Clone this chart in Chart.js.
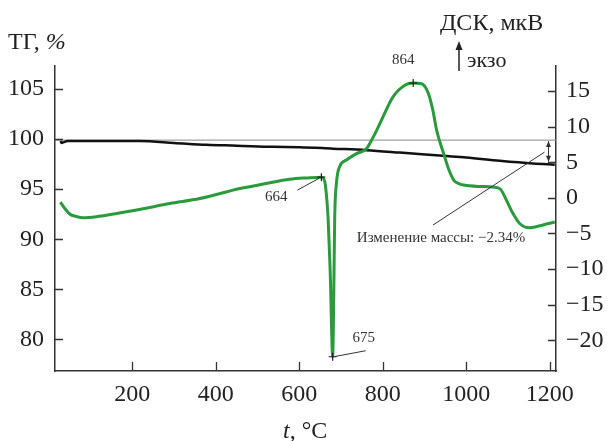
<!DOCTYPE html>
<html>
<head>
<meta charset="utf-8">
<script src="https://cdn.jsdelivr.net/npm/chart.js@4.4.0/dist/chart.umd.min.js"></script>
<style>
  body { margin: 0; background: #fff; }
  #wrap { width: 612px; height: 441px; position: relative; }
</style>
</head>
<body>
<div id="wrap"><canvas id="myChart"></canvas></div>
<script>
// ТГ / ДСК curve data

const xTicks = [200, 400, 600, 800, 1000, 1200];
const tgTicks = [80, 85, 90, 95, 100, 105];
const dscTicks = [-20, -15, -10, -5, 0, 5, 10, 15];

// thin grey 100% reference line
const refT = [15, 1215];
const refV = [99.9, 99.9];

// ТГ, %
const tgT = [28, 31, 36, 45, 100, 218, 300, 378, 450, 537, 601, 681, 761, 841, 944, 1000, 1080, 1160, 1212];
const tgV = [99.8, 99.62, 99.7, 99.8, 99.82, 99.8, 99.62, 99.43, 99.35, 99.23, 99.2, 99.05, 98.9, 98.66, 98.33, 98.16, 97.83, 97.56, 97.45];

// ДСК, мкВ
const dscT = [28, 40, 51, 65, 83, 120, 163, 220, 290, 362, 458, 520, 577, 620, 653, 661, 665, 669, 672, 675, 677, 680, 682, 683, 685, 689, 697, 713, 737, 761, 777, 793, 825, 853, 873, 893, 909, 920, 929, 946, 958, 970, 982, 994, 1030, 1066, 1082, 1096, 1112, 1128, 1152, 1184, 1212];
const dscV = [-0.6, -1.6, -2.3, -2.6, -2.8, -2.6, -2.2, -1.6, -0.8, -0.1, 1.3, 2.0, 2.6, 2.8, 2.9, 2.3, 0.5, -2.7, -7, -12, -17.2, -22.3, -17, -12, -2.7, 2.0, 4.4, 5.3, 6.2, 6.9, 8.5, 10.4, 14.2, 15.8, 16.1, 16.0, 14.7, 12.3, 9.5, 6.2, 4.0, 2.5, 2.0, 1.8, 1.6, 1.5, 1.2, -0.3, -2.2, -3.6, -4.2, -3.8, -3.4];

// peak markers
const markT = [653, 680, 873];
const markV = [2.9, -22.3, 16.1];
const markLabels = ["664", "675", "864"];

const massText = "Изменение массы: −2.34%";

const SERIF = "'Liberation Serif', 'DejaVu Serif', serif";

function pts(xs, ys) {
  return xs.map((x, i) => ({ x: x, y: ys[i] }));
}

function minus(v) {
  return v < 0 ? "−" + Math.abs(v) : "" + v;
}

// inward tick marks + annotations
const extras = {
  id: "extras",
  afterDatasetsDraw(chart) {
    const ctx = chart.ctx;
    const x = chart.scales.x, yL = chart.scales.yL, yR = chart.scales.yR;
    ctx.save();
    ctx.strokeStyle = "#333";
    ctx.lineWidth = 1.3;
    ctx.beginPath();
    xTicks.forEach(v => {
      const px = Math.round(x.getPixelForValue(v)) + 0.5;
      ctx.moveTo(px, x.top);
      ctx.lineTo(px, x.top - 9);
    });
    tgTicks.forEach(v => {
      const py = Math.round(yL.getPixelForValue(v)) + 0.5;
      ctx.moveTo(yL.right, py);
      ctx.lineTo(yL.right + 8, py);
    });
    dscTicks.forEach(v => {
      const py = Math.round(yR.getPixelForValue(v)) + 0.5;
      ctx.moveTo(yR.left, py);
      ctx.lineTo(yR.left - 8, py);
    });
    ctx.stroke();

    // marker labels
    ctx.fillStyle = "#333";
    ctx.font = "15px " + SERIF;
    ctx.textAlign = "center";
    ctx.textBaseline = "middle";
    ctx.lineWidth = 1;
    const m = markT.map((t, i) => ({ x: x.getPixelForValue(t), y: yR.getPixelForValue(markV[i]) }));
    // 664
    ctx.fillText(markLabels[0], m[0].x - 45, m[0].y + 20);
    ctx.beginPath();
    ctx.moveTo(m[0].x - 24, m[0].y + 13);
    ctx.lineTo(m[0].x - 2, m[0].y + 1);
    ctx.stroke();
    // 675
    ctx.fillText(markLabels[1], m[1].x + 31, m[1].y - 19);
    ctx.beginPath();
    ctx.moveTo(m[1].x + 1, m[1].y);
    ctx.lineTo(m[1].x + 33, m[1].y - 6);
    ctx.stroke();
    // 864
    ctx.fillText(markLabels[2], m[2].x - 10, m[2].y - 23);

    // mass change arrow
    const ax = x.getPixelForValue(1197);
    const a1 = yL.getPixelForValue(99.9) + 1;
    const a2 = yL.getPixelForValue(97.75);
    ctx.beginPath();
    ctx.moveTo(ax, a1);
    ctx.lineTo(ax, a2);
    ctx.stroke();
    ctx.beginPath();
    ctx.moveTo(ax, a1); ctx.lineTo(ax - 2.5, a1 + 6); ctx.lineTo(ax + 2.5, a1 + 6); ctx.closePath();
    ctx.moveTo(ax, a2); ctx.lineTo(ax - 2.5, a2 - 6); ctx.lineTo(ax + 2.5, a2 - 6); ctx.closePath();
    ctx.fill();
    ctx.beginPath();
    ctx.moveTo(ax - 4, a1 + 11);
    ctx.lineTo(433, 225);
    ctx.stroke();
    ctx.fillText(massText, 441, 238);
    ctx.restore();
  },
  afterDraw(chart) {
    const ctx = chart.ctx;
    ctx.save();
    ctx.fillStyle = "#222";
    ctx.textBaseline = "alphabetic";
    ctx.textAlign = "left";
    // ТГ, %
    ctx.font = "24px " + SERIF;
    ctx.fillText("ТГ, ", 8, 49);
    let w = ctx.measureText("ТГ, ").width;
    ctx.font = "italic 24px " + SERIF;
    ctx.fillText("%", 8 + w, 49);
    // ДСК, мкВ
    ctx.font = "24px " + SERIF;
    ctx.fillText("ДСК, мкВ", 440, 30);
    // экзо with arrow
    ctx.strokeStyle = "#222";
    ctx.lineWidth = 1.5;
    ctx.beginPath();
    ctx.moveTo(459, 71);
    ctx.lineTo(459, 46);
    ctx.stroke();
    ctx.beginPath();
    ctx.moveTo(459, 41); ctx.lineTo(455.5, 50); ctx.lineTo(462.5, 50); ctx.closePath();
    ctx.fill();
    ctx.font = "22px " + SERIF;
    ctx.fillText("экзо", 467, 67);
    // t, °C
    ctx.font = "italic 24px " + SERIF;
    ctx.fillText("t", 283, 438);
    w = ctx.measureText("t").width;
    ctx.font = "24px " + SERIF;
    ctx.fillText(", °C", 283 + w, 438);
    ctx.restore();
  }
};

const tickFont = { family: SERIF, size: 24 };

const config = {
  type: "scatter",
  data: {
    datasets: [
      {
        data: pts(markT, markV),
        yAxisID: "yR",
        showLine: false,
        pointStyle: "cross",
        pointRadius: 4,
        borderColor: "#222",
        borderWidth: 1.2,
        order: 0,
      },
      {
        data: pts(dscT, dscV),
        yAxisID: "yR",
        showLine: true,
        borderColor: "#2a9a3c",
        borderWidth: 3,
        pointRadius: 0,
        cubicInterpolationMode: "monotone",
        order: 1,
      },
      {
        data: pts(tgT, tgV),
        yAxisID: "yL",
        showLine: true,
        borderColor: "#111",
        borderWidth: 2.5,
        pointRadius: 0,
        cubicInterpolationMode: "monotone",
        order: 2,
      },
      {
        data: pts(refT, refV),
        yAxisID: "yL",
        showLine: true,
        borderColor: "#888",
        borderWidth: 1,
        pointRadius: 0,
        order: 3,
      },
    ],
  },
  options: {
    responsive: true,
    maintainAspectRatio: false,
    animation: false,
    layout: { padding: { top: 66, left: 0, right: 0, bottom: 0 } },
    plugins: { legend: { display: false }, tooltip: { enabled: false } },
    scales: {
      x: {
        type: "linear",
        min: 15,
        max: 1215,
        afterBuildTicks: s => { s.ticks = xTicks.map(v => ({ value: v })); },
        afterFit: s => { s.height = 70; },
        grid: { drawOnChartArea: false, drawTicks: false },
        border: { display: true, color: "#333", width: 1.5 },
        ticks: { font: tickFont, color: "#222", padding: 9, maxRotation: 0, autoSkip: false, callback: v => "" + v },
      },
      yL: {
        type: "linear",
        position: "left",
        min: 76.85,
        max: 107.3,
        afterBuildTicks: s => { s.ticks = tgTicks.map(v => ({ value: v })); },
        afterFit: s => { s.width = 55; },
        grid: { drawOnChartArea: false, drawTicks: false },
        border: { display: true, color: "#333", width: 1.5 },
        ticks: { font: tickFont, color: "#222", padding: 11, callback: v => minus(v) },
      },
      yR: {
        type: "linear",
        position: "right",
        min: -24.3,
        max: 18.5,
        afterBuildTicks: s => { s.ticks = dscTicks.map(v => ({ value: v })); },
        afterFit: s => { s.width = 56; },
        grid: { drawOnChartArea: false, drawTicks: false },
        border: { display: true, color: "#333", width: 1.5 },
        ticks: { font: tickFont, color: "#222", padding: 10, callback: v => minus(v) },
      },
    },
  },
  plugins: [extras],
};

const context = document.getElementById("myChart").getContext("2d");
const chart = new Chart(context, config);
</script>
</body>
</html>
